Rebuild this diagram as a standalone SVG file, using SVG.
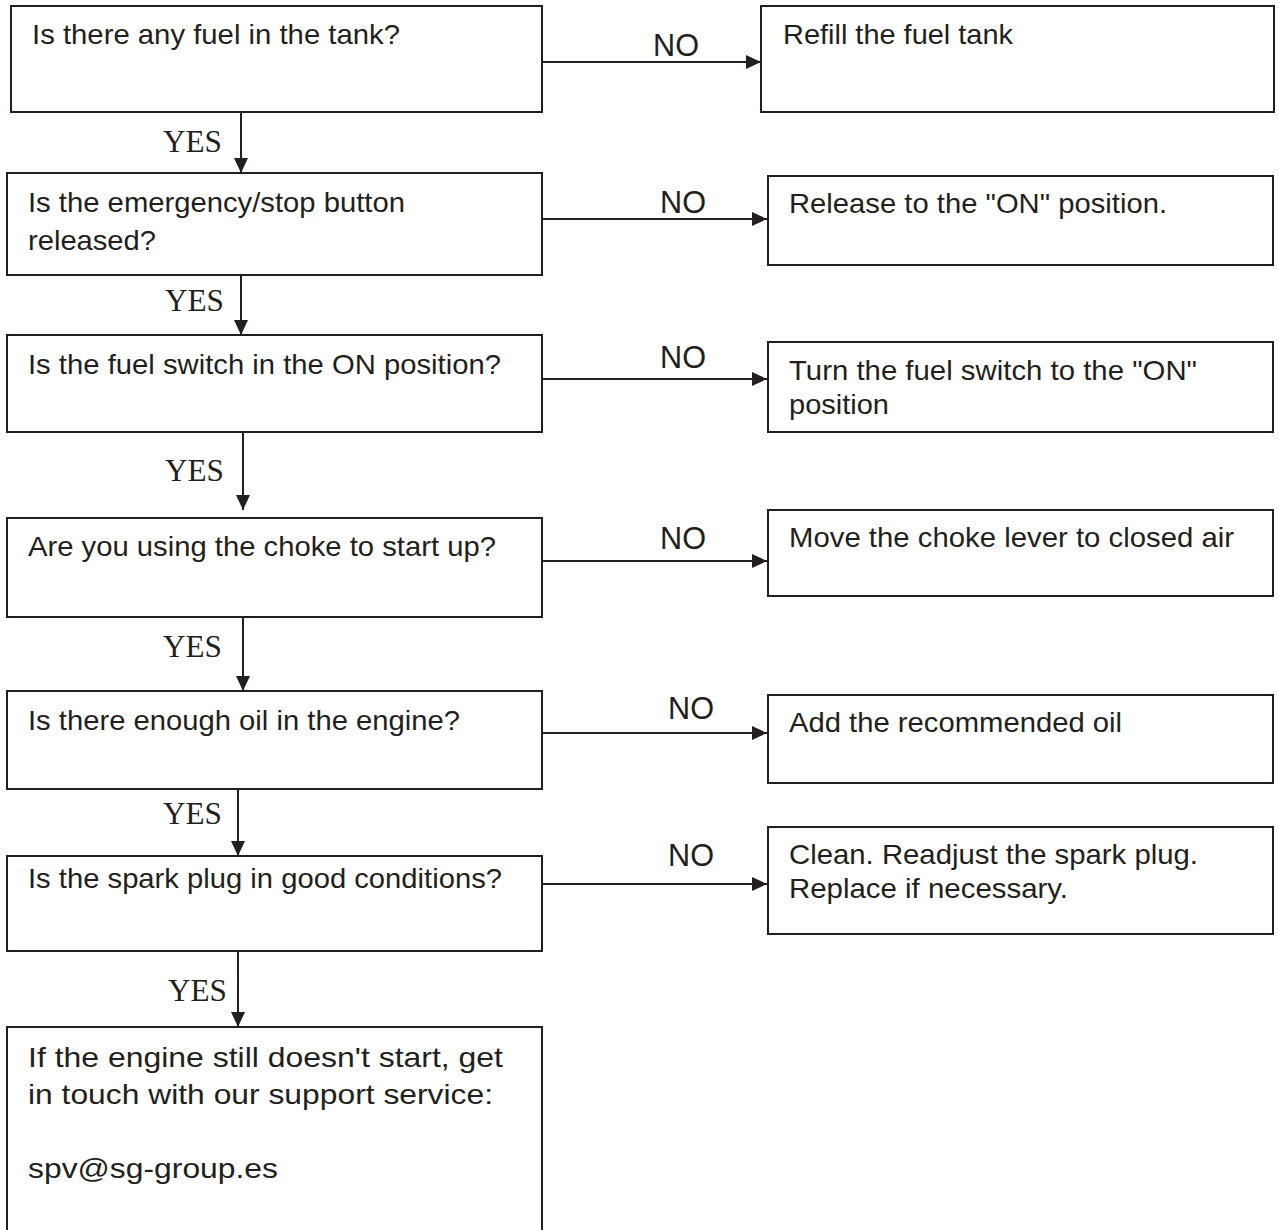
<svg xmlns="http://www.w3.org/2000/svg" width="1279" height="1230" viewBox="0 0 1279 1230">
<style>
.box{fill:#fff;stroke:#231f20;stroke-width:2}
.t{font-family:"Liberation Sans",Arial,sans-serif;font-size:28px;fill:#231f20}
.no{font-family:"Liberation Sans",Arial,sans-serif;font-size:31px;fill:#231f20}
.yes{font-family:"Liberation Serif","Times New Roman",serif;font-size:31px;fill:#231f20}
.c{stroke:#231f20;stroke-width:2;fill:none}
</style>
<defs>
<marker id="ah" viewBox="0 0 15 14" refX="15" refY="7" markerWidth="15" markerHeight="14" markerUnits="userSpaceOnUse" orient="auto">
<path d="M0,0 L15,7 L0,14 Z" fill="#231f20"/>
</marker>
</defs>
<rect width="1279" height="1230" fill="#fff"/>
<g id="connectors">
<line class="c" x1="542" y1="62" x2="761" y2="62" marker-end="url(#ah)"/>
<line class="c" x1="542" y1="219" x2="767" y2="219" marker-end="url(#ah)"/>
<line class="c" x1="542" y1="379" x2="767" y2="379" marker-end="url(#ah)"/>
<line class="c" x1="542" y1="561" x2="767" y2="561" marker-end="url(#ah)"/>
<line class="c" x1="542" y1="733" x2="767" y2="733" marker-end="url(#ah)"/>
<line class="c" x1="542" y1="884" x2="767" y2="884" marker-end="url(#ah)"/>
<line class="c" x1="241" y1="112" x2="241" y2="173" marker-end="url(#ah)"/>
<line class="c" x1="241" y1="275" x2="241" y2="335" marker-end="url(#ah)"/>
<line class="c" x1="243" y1="432" x2="243" y2="510" marker-end="url(#ah)"/>
<line class="c" x1="243" y1="617" x2="243" y2="691" marker-end="url(#ah)"/>
<line class="c" x1="238" y1="789" x2="238" y2="856" marker-end="url(#ah)"/>
<line class="c" x1="238" y1="951" x2="238" y2="1027" marker-end="url(#ah)"/>
<text class="no" x="653" y="56" textLength="46" lengthAdjust="spacingAndGlyphs">NO</text>
<text class="no" x="660" y="213" textLength="46" lengthAdjust="spacingAndGlyphs">NO</text>
<text class="no" x="660" y="368" textLength="46" lengthAdjust="spacingAndGlyphs">NO</text>
<text class="no" x="660" y="549" textLength="46" lengthAdjust="spacingAndGlyphs">NO</text>
<text class="no" x="668" y="719" textLength="46" lengthAdjust="spacingAndGlyphs">NO</text>
<text class="no" x="668" y="866" textLength="46" lengthAdjust="spacingAndGlyphs">NO</text>
<text class="yes" x="163" y="152" textLength="59" lengthAdjust="spacingAndGlyphs">YES</text>
<text class="yes" x="165" y="311" textLength="59" lengthAdjust="spacingAndGlyphs">YES</text>
<text class="yes" x="165" y="481" textLength="59" lengthAdjust="spacingAndGlyphs">YES</text>
<text class="yes" x="163" y="657" textLength="59" lengthAdjust="spacingAndGlyphs">YES</text>
<text class="yes" x="163" y="824" textLength="59" lengthAdjust="spacingAndGlyphs">YES</text>
<text class="yes" x="168" y="1001" textLength="59" lengthAdjust="spacingAndGlyphs">YES</text>
</g>
<g id="q1">
<rect class="box" x="11" y="6" width="531" height="106"/>
<text class="t" x="32" y="44" textLength="368" lengthAdjust="spacingAndGlyphs">Is there any fuel in the tank?</text>
</g>
<g id="a1">
<rect class="box" x="761" y="6" width="513" height="106"/>
<text class="t" x="783" y="44" textLength="230" lengthAdjust="spacingAndGlyphs">Refill the fuel tank</text>
</g>
<g id="q2">
<rect class="box" x="7" y="173" width="535" height="102"/>
<text class="t" x="28" y="212" textLength="377" lengthAdjust="spacingAndGlyphs">Is the emergency/stop button</text>
<text class="t" x="28" y="250" textLength="128" lengthAdjust="spacingAndGlyphs">released?</text>
</g>
<g id="a2">
<rect class="box" x="768" y="176" width="505" height="89"/>
<text class="t" x="789" y="213" textLength="378" lengthAdjust="spacingAndGlyphs">Release to the "ON" position.</text>
</g>
<g id="q3">
<rect class="box" x="7" y="335" width="535" height="97"/>
<text class="t" x="28" y="374" textLength="473" lengthAdjust="spacingAndGlyphs">Is the fuel switch in the ON position?</text>
</g>
<g id="a3">
<rect class="box" x="768" y="342" width="505" height="90"/>
<text class="t" x="789" y="380" textLength="408" lengthAdjust="spacingAndGlyphs">Turn the fuel switch to the "ON"</text>
<text class="t" x="789" y="414" textLength="100" lengthAdjust="spacingAndGlyphs">position</text>
</g>
<g id="q4">
<rect class="box" x="7" y="518" width="535" height="99"/>
<text class="t" x="28" y="556" textLength="468" lengthAdjust="spacingAndGlyphs">Are you using the choke to start up?</text>
</g>
<g id="a4">
<rect class="box" x="768" y="510" width="505" height="86"/>
<text class="t" x="789" y="547" textLength="445" lengthAdjust="spacingAndGlyphs">Move the choke lever to closed air</text>
</g>
<g id="q5">
<rect class="box" x="7" y="691" width="535" height="98"/>
<text class="t" x="28" y="730" textLength="432" lengthAdjust="spacingAndGlyphs">Is there enough oil in the engine?</text>
</g>
<g id="a5">
<rect class="box" x="768" y="695" width="505" height="88"/>
<text class="t" x="789" y="732" textLength="333" lengthAdjust="spacingAndGlyphs">Add the recommended oil</text>
</g>
<g id="q6">
<rect class="box" x="7" y="856" width="535" height="95"/>
<text class="t" x="28" y="888" textLength="474" lengthAdjust="spacingAndGlyphs">Is the spark plug in good conditions?</text>
</g>
<g id="a6">
<rect class="box" x="768" y="827" width="505" height="107"/>
<text class="t" x="789" y="864" textLength="409" lengthAdjust="spacingAndGlyphs">Clean. Readjust the spark plug.</text>
<text class="t" x="789" y="898" textLength="279" lengthAdjust="spacingAndGlyphs">Replace if necessary.</text>
</g>
<g id="end">
<rect class="box" x="7" y="1027" width="535" height="220"/>
<text class="t" x="28" y="1067" textLength="475" lengthAdjust="spacingAndGlyphs">If the engine still doesn't start, get</text>
<text class="t" x="28" y="1104" textLength="465" lengthAdjust="spacingAndGlyphs">in touch with our support service:</text>
<text class="t" x="28" y="1178" textLength="250" lengthAdjust="spacingAndGlyphs">spv@sg-group.es</text>
</g>
</svg>
